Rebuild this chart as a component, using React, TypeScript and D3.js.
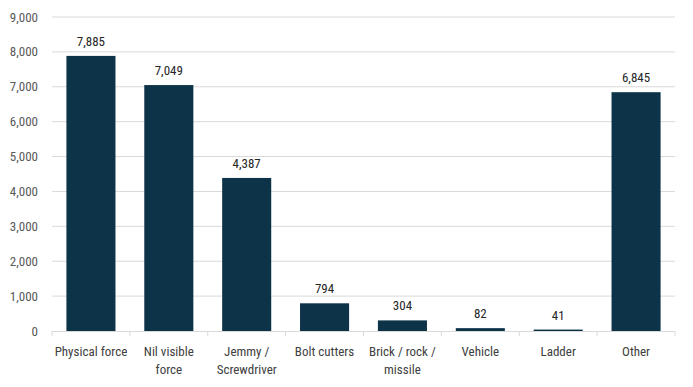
import { useRef, useEffect } from 'react';
import * as d3 from 'd3';

const categories = [
  ['Physical force'],
  ['Nil visible', 'force'],
  ['Jemmy /', 'Screwdriver'],
  ['Bolt cutters'],
  ['Brick / rock /', 'missile'],
  ['Vehicle'],
  ['Ladder'],
  ['Other'],
];
const values = [7885, 7049, 4387, 794, 304, 82, 41, 6845];
const yTicks = [0, 1000, 2000, 3000, 4000, 5000, 6000, 7000, 8000, 9000];

export default function App() {
  const svgRef = useRef(null);

  useEffect(() => {
    const svg = d3.select(svgRef.current);
    svg.selectAll('*').remove();

    const width = 693;
    const height = 387;
    const left = 52, right = 675, top = 17, bottom = 331;
    const font = '"Roboto Condensed", "Roboto", sans-serif';
    // condensed look, if the installed Roboto has a width axis
    const fontStyle = 'font-stretch: 80%; font-variation-settings: "wdth" 80;';

    const x = d3.scaleBand()
      .domain(categories.map((d, i) => String(i)))
      .range([left, right])
      .paddingInner(0.37)
      .paddingOuter(0.185);

    const y = d3.scaleLinear().domain([0, 9000]).range([bottom, top]);

    svg.attr('width', width).attr('height', height);

    // gridlines
    svg.append('g')
      .selectAll('line')
      .data(yTicks.filter(t => t > 0))
      .enter()
      .append('line')
      .attr('x1', left)
      .attr('x2', right)
      .attr('y1', d => y(d))
      .attr('y2', d => y(d))
      .attr('stroke', '#d9d9d9')
      .attr('stroke-width', 1);

    // y labels
    svg.append('g')
      .selectAll('text')
      .data(yTicks)
      .enter()
      .append('text')
      .attr('x', 38)
      .attr('y', d => y(d))
      .attr('dy', '0.35em')
      .attr('text-anchor', 'end')
      .attr('font-family', font)
      .attr('style', fontStyle)
      .attr('font-size', 13)
      .attr('fill', '#595959')
      .text(d => d3.format(',')(d));

    // bars
    svg.append('g')
      .selectAll('rect')
      .data(values)
      .enter()
      .append('rect')
      .attr('x', (d, i) => x(String(i)))
      .attr('width', x.bandwidth())
      .attr('y', d => y(d))
      .attr('height', d => bottom - y(d))
      .attr('fill', '#0d3349');

    // value labels
    svg.append('g')
      .selectAll('text')
      .data(values)
      .enter()
      .append('text')
      .attr('x', (d, i) => x(String(i)) + x.bandwidth() / 2)
      .attr('y', d => y(d) - 10)
      .attr('text-anchor', 'middle')
      .attr('font-family', font)
      .attr('style', fontStyle)
      .attr('font-size', 13)
      .attr('fill', '#262626')
      .text(d => d3.format(',')(d));

    // x axis line + ticks
    svg.append('line')
      .attr('x1', left).attr('x2', right)
      .attr('y1', bottom + 0.5).attr('y2', bottom + 0.5)
      .attr('stroke', '#d9d9d9');

    const step = x.step();
    svg.append('g')
      .selectAll('line')
      .data(d3.range(categories.length + 1))
      .enter()
      .append('line')
      .attr('x1', i => left + i * step)
      .attr('x2', i => left + i * step)
      .attr('y1', bottom)
      .attr('y2', bottom + 5)
      .attr('stroke', '#d9d9d9');

    // x labels
    const lbl = svg.append('g')
      .selectAll('text')
      .data(categories)
      .enter()
      .append('text')
      .attr('text-anchor', 'middle')
      .attr('font-family', font)
      .attr('style', fontStyle)
      .attr('font-size', 13)
      .attr('fill', '#404040');

    lbl.selectAll('tspan')
      .data((d, i) => d.map(line => ({ line, i })))
      .enter()
      .append('tspan')
      .attr('x', d => x(String(d.i)) + x.bandwidth() / 2)
      .attr('y', (d, j) => 356 + j * 18)
      .text(d => d.line);
  }, []);

  return (
    <svg ref={svgRef} style={{ position: 'absolute', left: 0, top: 0 }} />
  );
}
